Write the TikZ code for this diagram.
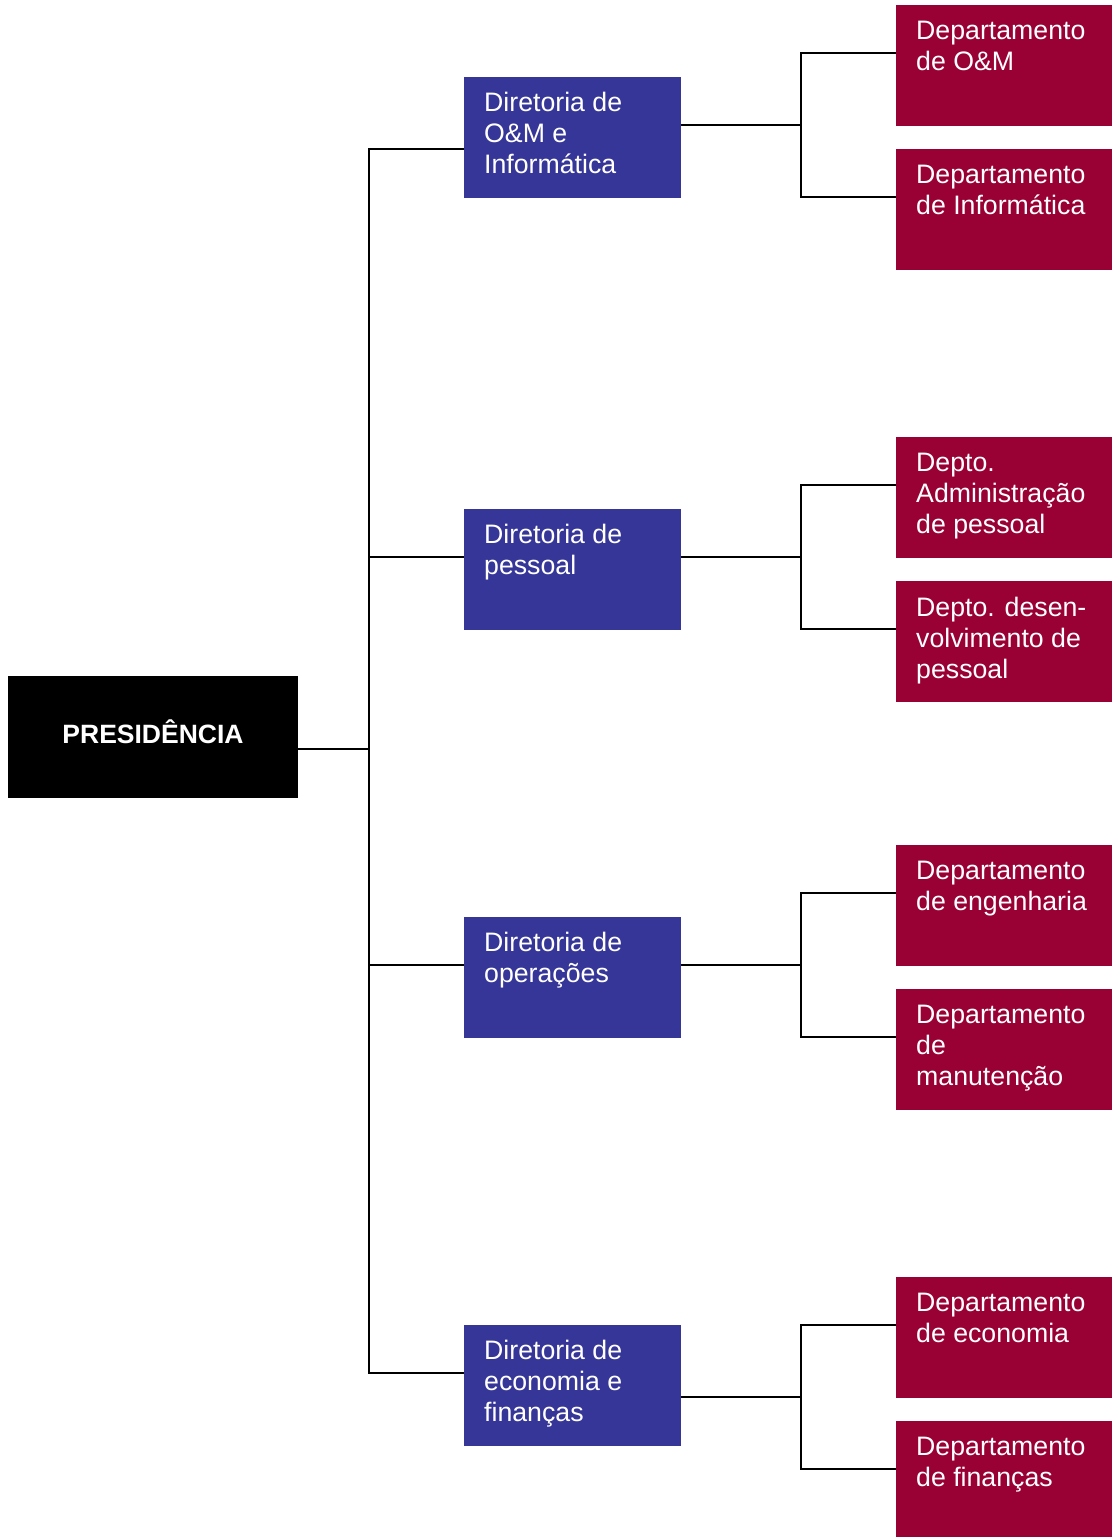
\documentclass[tikz,border=0pt]{standalone}
\usepackage{fontspec}
\setmainfont{Liberation Sans}
\begin{document}
\begin{tikzpicture}[x=1pt,y=-1pt,
  conn/.style={line width=2pt,draw=black},
  box/.style={draw=none,inner sep=0pt,anchor=north west},
  presbox/.style={box,fill=black,minimum width=290pt,minimum height=122pt},
  dirbox/.style={box,fill=dirblue,minimum width=217pt,minimum height=121pt},
  deptbox/.style={box,fill=deptred,minimum width=216pt,minimum height=121pt},
  boxtext/.style={inner sep=0pt,anchor=north west,align=left,text=white,
    font=\fontsize{26.7}{31}\selectfont},
]
\definecolor{dirblue}{RGB}{54,54,152}
\definecolor{deptred}{RGB}{153,0,51}
\useasboundingbox (0,0) rectangle (1112,1537);

% presidency
\node[presbox] (pres) at (8,676) {};
\node[inner sep=0pt,anchor=base,text=white,font=\fontsize{26.5}{31}\selectfont\bfseries] (prest) at (153,743) {PRESIDÊNCIA};

% directorates
\node[dirbox] (b1) at (464,77) {};
\node[dirbox] (b2) at (464,509) {};
\node[dirbox] (b3) at (464,917) {};
\node[dirbox] (b4) at (464,1325) {};
\node[boxtext] (b1t) at ([shift={(20pt,-15pt)}]b1.north west) {Diretoria de\\O\&M e\\Informática};
\node[boxtext] (b2t) at ([shift={(20pt,-15pt)}]b2.north west) {Diretoria de\\pessoal};
\node[boxtext] (b3t) at ([shift={(20pt,-15pt)}]b3.north west) {Diretoria de\\operações};
\node[boxtext] (b4t) at ([shift={(20pt,-15pt)}]b4.north west) {Diretoria de\\economia e\\finanças};

% departments
\node[deptbox] (r1) at (896,5) {};
\node[deptbox] (r2) at (896,149) {};
\node[deptbox] (r3) at (896,437) {};
\node[deptbox] (r4) at (896,581) {};
\node[deptbox] (r5) at (896,845) {};
\node[deptbox] (r6) at (896,989) {};
\node[deptbox] (r7) at (896,1277) {};
\node[deptbox,minimum height=116pt] (r8) at (896,1421) {};
\node[boxtext] (r1t) at ([shift={(20pt,-16pt)}]r1.north west) {Departamento\\de O\&M};
\node[boxtext] (r2t) at ([shift={(20pt,-16pt)}]r2.north west) {Departamento\\de Informática};
\node[boxtext] (r3t) at ([shift={(20pt,-16pt)}]r3.north west) {Depto.\\Administração\\de pessoal};
\node[boxtext] (r4t) at ([shift={(20pt,-16pt)}]r4.north west) {Depto. desen-\\volvimento de\\pessoal};
\node[boxtext] (r5t) at ([shift={(20pt,-16pt)}]r5.north west) {Departamento\\de engenharia};
\node[boxtext] (r6t) at ([shift={(20pt,-16pt)}]r6.north west) {Departamento\\de\\manutenção};
\node[boxtext] (r7t) at ([shift={(20pt,-16pt)}]r7.north west) {Departamento\\de economia};
\node[boxtext] (r8t) at ([shift={(20pt,-16pt)}]r8.north west) {Departamento\\de finanças};

% attachment points
\coordinate (tk) at (369,0);
\coordinate (fk) at (801,0);
\coordinate (pout) at ([yshift=-73pt]pres.north east);
\coordinate (b1in) at ([yshift=-72pt]b1.north west);
\coordinate (b2in) at ([yshift=-48pt]b2.north west);
\coordinate (b3in) at ([yshift=-48pt]b3.north west);
\coordinate (b4in) at ([yshift=-48pt]b4.north west);
\coordinate (b1out) at ([yshift=-48pt]b1.north east);
\coordinate (b2out) at ([yshift=-48pt]b2.north east);
\coordinate (b3out) at ([yshift=-48pt]b3.north east);
\coordinate (b4out) at ([yshift=-72pt]b4.north east);
\foreach \i in {1,...,8} {\coordinate (r\i in) at ([yshift=-48pt]r\i.north west);}

% presidency to directorates
\draw[conn] (pout) -- (pout -| tk);
\draw[conn] (b1in) -- (b1in -| tk) -- (b4in -| tk) -- (b4in);
\draw[conn] (b2in) -- (b2in -| tk);
\draw[conn] (b3in) -- (b3in -| tk);

% directorates to departments
\draw[conn] (b1out) -- (b1out -| fk);
\draw[conn] (r1in) -- (r1in -| fk) -- (r2in -| fk) -- (r2in);
\draw[conn] (b2out) -- (b2out -| fk);
\draw[conn] (r3in) -- (r3in -| fk) -- (r4in -| fk) -- (r4in);
\draw[conn] (b3out) -- (b3out -| fk);
\draw[conn] (r5in) -- (r5in -| fk) -- (r6in -| fk) -- (r6in);
\draw[conn] (b4out) -- (b4out -| fk);
\draw[conn] (r7in) -- (r7in -| fk) -- (r8in -| fk) -- (r8in);
\end{tikzpicture}
\end{document}
